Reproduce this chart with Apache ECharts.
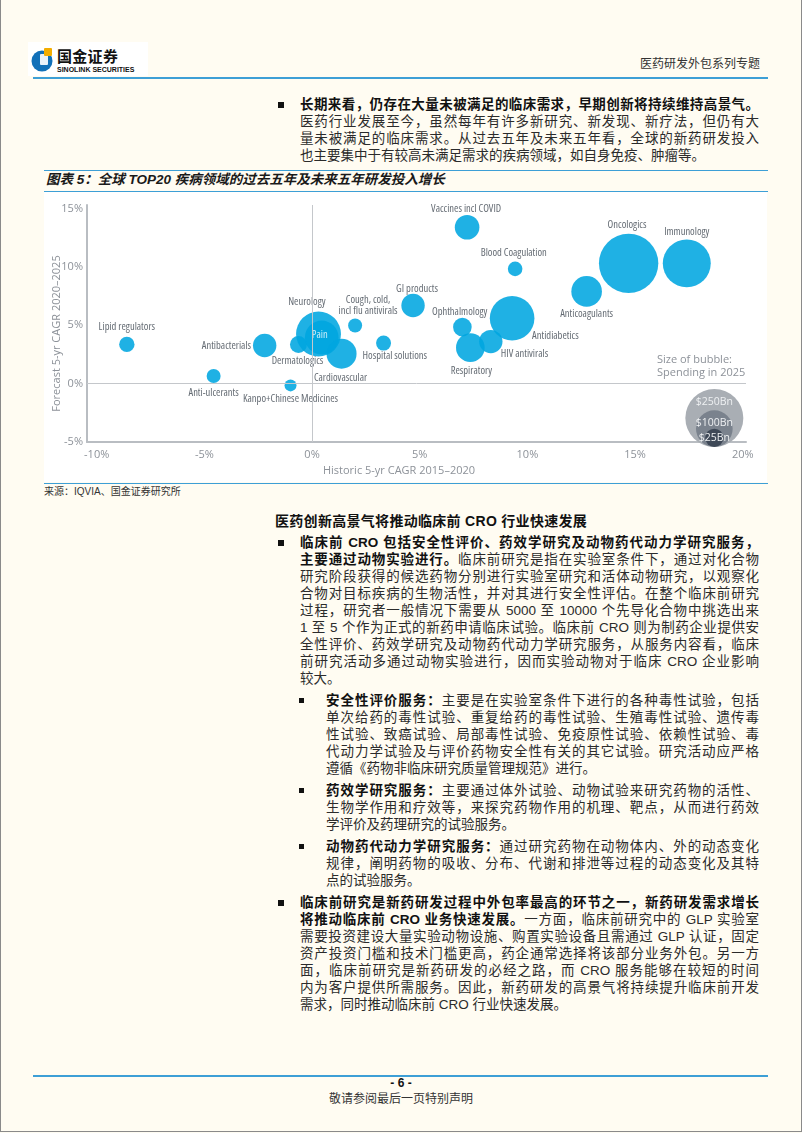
<!DOCTYPE html>
<html>
<head>
<meta charset="utf-8">
<script src="https://cdn.jsdelivr.net/npm/echarts@6/dist/echarts.min.js"></script>
<style>
  html, body { margin: 0; padding: 0; }
  body { width: 802px; height: 1133px; background: #fffcf2; position: relative; overflow: hidden;
         font-family: 'Liberation Sans', 'Noto Sans CJK SC', sans-serif; color: #2b2b2b; }
  .abs { position: absolute; }
  .hl { position: absolute; background: #3d9fd6; }
  .ln { position: absolute; height: 16px; line-height: 16px; font-size: 13.5px;
        text-align: justify; text-align-last: justify; }
  .ln.last { text-align-last: left; }
  .b { font-weight: 700; color: #111; }
  .bul { position: absolute; background: #111; }
</style>
</head>
<body>
<div class="abs" style="left:0;top:0;width:800px;height:1131px;border:1px solid #8a8a8a;border-top:none;"></div>

<!-- header -->
<div class="abs" style="left:28px;top:42px;width:120px;height:34px;background:#fff;"></div>
<svg class="abs" style="left:31px;top:45px;" width="26" height="28" viewBox="0 0 26 28">
  <circle cx="11" cy="16" r="10.5" fill="#1170b8"/>
  <rect x="9" y="9" width="8" height="11" rx="1" fill="#e9f2fa"/>
  <rect x="13" y="3" width="8" height="8" rx="1" fill="#f3ad00"/>
</svg>
<div class="abs" style="left:57px;top:47px;font-size:15px;font-weight:700;font-family:'Noto Sans CJK SC';color:#111;line-height:18px;letter-spacing:0.3px;">国金证券</div>
<div class="abs" style="left:57px;top:66px;font-size:7px;font-weight:700;font-family:'Liberation Sans';color:#111;line-height:8px;">SINOLINK SECURITIES</div>
<div class="abs" style="left:600px;width:160px;top:55px;text-align:right;font-size:12px;line-height:16px;font-family:'Noto Sans CJK SC';color:#333;">医药研发外包系列专题</div>
<div class="hl" style="left:33px;top:77px;width:735px;height:1.5px;"></div>

<div id="text"></div>

<!-- figure block -->
<div class="hl" style="left:44px;top:170px;width:724px;height:1px;"></div>
<div class="abs" style="left:46px;top:171px;font-size:13.5px;line-height:18px;font-weight:700;font-style:italic;color:#1a1a1a;font-family:'Liberation Sans','Noto Sans CJK SC';">图表 5：全球 TOP20 疾病领域的过去五年及未来五年研发投入增长</div>
<div class="hl" style="left:44px;top:191px;width:724px;height:1px;"></div>
<div class="abs" style="left:44px;top:192px;width:723px;height:290px;background:#ffffff;"></div>
<div id="chart" class="abs" style="left:44px;top:192px;width:724px;height:290px;"></div>
<div class="hl" style="left:44px;top:483px;width:724px;height:1px;"></div>
<div class="abs" style="left:44px;top:485px;font-size:10px;line-height:14px;color:#333;">来源：IQVIA、国金证券研究所</div>

<!-- footer -->
<div class="hl" style="left:33px;top:1075px;width:735px;height:1.5px;"></div>
<div class="abs" style="left:0;width:802px;top:1076px;text-align:center;font-size:12px;font-weight:700;line-height:15px;color:#111;">- 6 -</div>
<div class="abs" style="left:0;width:802px;top:1090px;text-align:center;font-size:12px;line-height:16px;font-family:'Noto Sans CJK SC';color:#333;">敬请参阅最后一页特别声明</div>

<script>
// ---------------- data ----------------
const areaNames = ['Lipid regulators', 'Anti-ulcerants', 'Antibacterials', 'Kanpo+Chinese Medicines',
  'Dermatologics', 'Neurology', 'Pain', 'Cardiovascular', 'Cough, cold,\nincl flu antivirals',
  'Hospital solutions', 'GI products', 'Vaccines incl COVID', 'Blood Coagulation', 'Ophthalmology',
  'Respiratory', 'HIV antivirals', 'Antidiabetics', 'Anticoagulants', 'Oncologics', 'Immunology'];
const historicCAGR = [-8.6, -4.57, -2.2, -1.0, -0.63, 0.3, 0.45, 1.37, 2.0, 3.32, 4.69, 7.2, 9.43, 6.98, 7.35, 8.3, 9.29, 12.75, 14.7, 17.4];
const forecastCAGR = [3.36, 0.65, 3.27, -0.15, 3.36, 4.25, 3.95, 2.56, 4.98, 3.47, 6.69, 13.4, 9.83, 4.84, 3.08, 3.6, 5.6, 7.9, 10.3, 10.3];
const spending2025 = [17.6, 14.6, 40.7, 10.7, 21.5, 150, 85, 67, 14.6, 16.7, 40.7, 45, 15.8, 25.7, 61, 40.7, 148, 69.6, 262, 171];
const xTickValues = [-10, -5, 0, 5, 10, 15, 20];
const yTickValues = [-5, 0, 5, 10, 15];
const legendSpend = [250, 100, 25];
const legendLabels = ['$250Bn', '$100Bn', '$25Bn'];
const legendX = 18.68;

// ---------------- page text ----------------
const topPara = [
  '<span class="b">长期来看，仍存在大量未被满足的临床需求，早期创新将持续维持高景气。</span>',
  '医药行业发展至今，虽然每年有许多新研究、新发现、新疗法，但仍有大',
  '量未被满足的临床需求。从过去五年及未来五年看，全球的新药研发投入',
  '也主要集中于有较高未满足需求的疾病领域，如自身免疫、肿瘤等。'
];
const heading = '医药创新高景气将推动临床前 CRO 行业快速发展';
const para1 = [
  '<span class="b">临床前 CRO 包括安全性评价、药效学研究及动物药代动力学研究服务，</span>',
  '<span class="b">主要通过动物实验进行。</span>临床前研究是指在实验室条件下，通过对化合物',
  '研究阶段获得的候选药物分别进行实验室研究和活体动物研究，以观察化',
  '合物对目标疾病的生物活性，并对其进行安全性评估。在整个临床前研究',
  '过程，研究者一般情况下需要从 5000 至 10000 个先导化合物中挑选出来',
  '1 至 5 个作为正式的新药申请临床试验。临床前 CRO 则为制药企业提供安',
  '全性评价、药效学研究及动物药代动力学研究服务，从服务内容看，临床',
  '前研究活动多通过动物实验进行，因而实验动物对于临床 CRO 企业影响',
  '较大。'
];
const sub1 = [
  '<span class="b">安全性评价服务：</span>主要是在实验室条件下进行的各种毒性试验，包括',
  '单次给药的毒性试验、重复给药的毒性试验、生殖毒性试验、遗传毒',
  '性试验、致癌试验、局部毒性试验、免疫原性试验、依赖性试验、毒',
  '代动力学试验及与评价药物安全性有关的其它试验。研究活动应严格',
  '遵循《药物非临床研究质量管理规范》进行。'
];
const sub2 = [
  '<span class="b">药效学研究服务：</span>主要通过体外试验、动物试验来研究药物的活性、',
  '生物学作用和疗效等，来探究药物作用的机理、靶点，从而进行药效',
  '学评价及药理研究的试验服务。'
];
const sub3 = [
  '<span class="b">动物药代动力学研究服务：</span>通过研究药物在动物体内、外的动态变化',
  '规律，阐明药物的吸收、分布、代谢和排泄等过程的动态变化及其特',
  '点的试验服务。'
];
const para2 = [
  '<span class="b">临床前研究是新药研发过程中外包率最高的环节之一，新药研发需求增长</span>',
  '<span class="b">将推动临床前 CRO 业务快速发展。</span>一方面，临床前研究中的 GLP 实验室',
  '需要投资建设大量实验动物设施、购置实验设备且需通过 GLP 认证，固定',
  '资产投资门槛和技术门槛更高，药企通常选择将该部分业务外包。另一方',
  '面，临床前研究是新药研发的必经之路，而 CRO 服务能够在较短的时间',
  '内为客户提供所需服务。因此，新药研发的高景气将持续提升临床前开发',
  '需求，同时推动临床前 CRO 行业快速发展。'
];

(function buildText() {
  const host = document.getElementById('text');
  let html = '';
  const LH = 17, GAP = 5;
  function block(lines, y0, left, width, bulletLeft, bulletSize) {
    html += `<div class="bul" style="left:${bulletLeft}px;top:${(y0 - bulletSize / 2).toFixed(1)}px;width:${bulletSize}px;height:${bulletSize}px;"></div>`;
    lines.forEach((t, i) => {
      const y = y0 + i * LH;
      const cls = i === lines.length - 1 ? 'ln last' : 'ln';
      html += `<div class="${cls}" style="left:${left}px;width:${width}px;top:${(y - 8).toFixed(1)}px;">${t}</div>`;
    });
    return y0 + (lines.length - 1) * LH + LH + GAP;
  }
  block(topPara, 105, 300, 459, 278, 6);
  html += `<div class="abs b" style="left:275px;top:${521 - 9}px;font-size:14px;line-height:18px;letter-spacing:0.3px;">${heading}</div>`;
  let y = 542.7;
  y = block(para1, y, 300, 459, 278, 6);
  y = block(sub1, y, 326, 433, 299, 5);
  y = block(sub2, y, 326, 433, 299, 5);
  y = block(sub3, y, 326, 433, 299, 5);
  y = block(para2, y, 300, 459, 278, 6);
  host.innerHTML = html;
})();

// ---------------- chart ----------------
const sizeOf = s => 58 * Math.sqrt(s / 250);
const labelPlacement = {
  'Lipid regulators': [0, -17, 'center'],
  'Anti-ulcerants': [0, 17, 'center'],
  'Antibacterials': [-13.6, 1, 'right'],
  'Kanpo+Chinese Medicines': [0, 14, 'center'],
  'Dermatologics': [-1, 17, 'center'],
  'Neurology': [-11.6, -31.7, 'center'],
  'Pain': [-2, -2, 'center'],
  'Cardiovascular': [-1, 24, 'center'],
  'Cough, cold,\nincl flu antivirals': [13, -20, 'center'],
  'Hospital solutions': [-21, 13.3, 'left'],
  'GI products': [4, -17, 'center'],
  'Vaccines incl COVID': [-1, -18, 'center'],
  'Blood Coagulation': [-1.4, -15.6, 'center'],
  'Ophthalmology': [-2.7, -15, 'center'],
  'Respiratory': [1, 23.7, 'center'],
  'HIV antivirals': [10, 12.3, 'left'],
  'Antidiabetics': [20, 17.3, 'left'],
  'Anticoagulants': [0, 23, 'center'],
  'Oncologics': [-1.6, -38.4, 'center'],
  'Immunology': [0, -31.4, 'center']
};

const bubbleData = areaNames.map((n, i) => {
  const p = labelPlacement[n];
  return {
    name: n,
    value: [historicCAGR[i], forecastCAGR[i], spending2025[i]],
    label: {
      show: true, position: 'inside', formatter: '{b}',
      offset: [p[0], p[1]], align: p[2], verticalAlign: 'middle',
      color: n === 'Pain' ? '#e6f6fd' : '#4f5660',
      fontSize: 10.5, lineHeight: 11, fontFamily: "'Open Sans'", fontWeight: 'condensed'
    }
  };
});

const legendColors = ['#a9aeb4', '#7a828d', '#3e4857'];
const legendData = legendSpend.map((s, i) => {
  const r = sizeOf(s) / 2;
  const lblDy = [-16, -5.5, 0][i];
  return {
    name: legendLabels[i],
    value: [legendX, -5, s],
    symbolOffset: [0, 5 - r],
    itemStyle: { color: legendColors[i], opacity: 1 },
    label: { show: true, position: 'inside', formatter: '{b}', offset: [0, lblDy],
      color: '#eef0f2', fontSize: 10.5, fontFamily: 'Open Sans' }
  };
});

const chart = echarts.init(document.getElementById('chart'), null, { renderer: 'canvas' });
chart.setOption({
  animation: false,
  textStyle: { fontFamily: 'Open Sans' },
  title: {
    text: 'Size of bubble:\nSpending in 2025',
    left: 613, top: 161.5, padding: 0,
    textStyle: { fontSize: 11, fontWeight: 'normal', color: '#8d9299', lineHeight: 13, fontFamily: 'Open Sans' }
  },
  grid: { left: 43, right: 22, top: 13, bottom: 40, outerBoundsMode: 'none', containLabel: false },
  xAxis: {
    type: 'value', min: -10.45, max: 20.15,
    name: 'Historic 5-yr CAGR 2015–2020', nameLocation: 'middle', nameGap: 22,
    nameTextStyle: { color: '#8d9299', fontSize: 11, padding: [0, 35, 0, 0] },
    axisLine: { show: true, onZero: false, lineStyle: { color: '#b9bdc2', width: 2 } },
    axisTick: { show: false },
    splitLine: { show: false },
    axisLabel: { customValues: xTickValues, formatter: '{value}%', color: '#8d9299', fontSize: 11, margin: 7 }
  },
  yAxis: {
    type: 'value', min: -5, max: 15.3,
    name: 'Forecast 5-yr CAGR 2020–2025', nameLocation: 'middle', nameGap: 25, nameMoveOverlap: false,
    nameTextStyle: { color: '#8d9299', fontSize: 11, padding: [0, 20, 0, 0] },
    axisLine: { show: true, onZero: false, lineStyle: { color: '#b9bdc2', width: 2 } },
    axisTick: { show: false },
    splitLine: { show: false },
    axisLabel: { customValues: yTickValues, formatter: '{value}%', color: '#8d9299', fontSize: 11, margin: 4 }
  },
  series: [
    {
      type: 'scatter', data: [], silent: true, z: 1,
      markLine: {
        silent: true, symbol: ['none', 'none'], label: { show: false },
        lineStyle: { color: '#c4c7cb', width: 1, type: 'solid' },
        emphasis: { disabled: true },
        data: [{ xAxis: 0 }, { yAxis: 0 }]
      }
    },
    {
      name: 'bubbles', type: 'scatter', z: 3,
      symbolSize: v => sizeOf(v[2]),
      itemStyle: { color: '#00a6e0', opacity: 0.88 },
      data: bubbleData
    },
    {
      name: 'legend', type: 'scatter', z: 2, clip: false, silent: true,
      symbolSize: v => sizeOf(v[2]),
      data: legendData
    }
  ]
});
</script>
</body>
</html>
